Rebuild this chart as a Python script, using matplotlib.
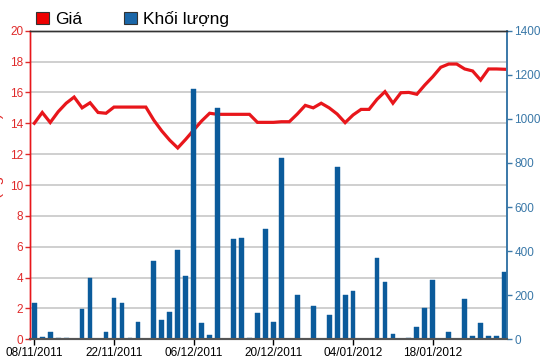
import matplotlib
matplotlib.use("Agg")
import matplotlib.pyplot as plt
from matplotlib.patches import Patch

plt.rcParams['font.family'] = ['Liberation Sans', 'DejaVu Sans']

# ---- data ----
price = [14.0, 14.7, 14.05, 14.75, 15.3, 15.7, 15.0, 15.33, 14.7, 14.65,
         15.05, 15.05, 15.05, 15.05, 15.05, 14.2, 13.5, 12.9, 12.4, 12.96,
         13.56, 14.15, 14.65, 14.58, 14.58, 14.58, 14.58, 14.58, 14.06, 14.06,
         14.06, 14.1, 14.1, 14.6, 15.16, 15.0, 15.3, 15.0, 14.6, 14.04,
         14.54, 14.9, 14.9, 15.55, 16.05, 15.3, 15.98, 16.0, 15.88, 16.48,
         17.02, 17.63, 17.84, 17.84, 17.52, 17.39, 16.8, 17.52, 17.52, 17.5]
volume = [163, 12, 34, 7, 7, 0, 136, 280, 0, 34,
          186, 163, 7, 80, 0, 355, 88, 125, 405, 287,
          1134, 73, 18, 1051, 0, 455, 461, 7, 121, 499,
          78, 821, 0, 202, 0, 153, 0, 109, 780, 202,
          220, 0, 0, 370, 260, 23, 0, 7, 57, 141,
          269, 0, 34, 0, 181, 14, 73, 14, 14, 304]
tick_idx = [0, 10, 20, 30, 40, 50]
tick_labels = ["08/11/2011", "22/11/2011", "06/12/2011", "20/12/2011",
               "04/01/2012", "18/01/2012"]
left_ticks = [0, 2, 4, 6, 8, 10, 12, 14, 16, 18, 20]
right_ticks = [0, 200, 400, 600, 800, 1000, 1200, 1400]

RED = "#e8161b"
LRED = "#e02a2a"
BLUE = "#0b5b9b"
SBLUE = "#3a78a8"

fig = plt.figure(figsize=(5.5, 3.64), dpi=100)
ax = fig.add_axes([30.3/550, 1-339.3/364, 477/550, 308.6/364])
ax2 = ax.twinx()

x = list(range(len(price)))

# price line on left axis
ax.plot(x, price, color=RED, lw=2.3, solid_joinstyle='miter', zorder=3)
ax.set_ylim(0, 20)
ax.set_yticks(left_ticks)
ax.set_xlim(-0.5, 59.35)
ax.grid(axis='y', color='#cccccc', lw=1.3)
ax.set_axisbelow(True)

# volume bars on right axis
ax2.bar(x, volume, width=0.6, color=BLUE, edgecolor=BLUE, lw=0.3, zorder=2)
ax2.set_ylim(0, 1400)
ax2.set_yticks(right_ticks)
ax2.set_xlim(-0.5, 59.35)

ax.set_xticks(tick_idx)
ax.set_xticklabels(tick_labels)

# styling
for a in (ax, ax2):
    a.spines['top'].set_color('#333333')
    a.spines['top'].set_linewidth(1.0)
    a.spines['bottom'].set_color('#555555')
    a.spines['bottom'].set_linewidth(1.5)
    a.spines['left'].set_color(RED)
    a.spines['right'].set_color(SBLUE)
    a.spines['left'].set_linewidth(1.0)
    a.spines['right'].set_linewidth(1.2)

ax.tick_params(axis='y', colors=LRED, labelsize=8.5, length=3.5, width=1, pad=1.5)
ax.tick_params(axis='x', colors='#000000', labelsize=8.5, length=4, width=1, pad=1.5)
ax2.tick_params(axis='y', colors=SBLUE, labelsize=8.5, length=3.5, width=1, pad=1.5)
for lab in ax.get_yticklabels():
    lab.set_color(LRED)
for lab in ax2.get_yticklabels():
    lab.set_color(SBLUE)

# partially visible left axis title (cut off at the left edge, as in the reference)
ax.set_ylabel("Giá (nghìn VNĐ)", color=LRED, fontsize=11)
ax.yaxis.set_label_coords(-0.055, 0.55)

# legend
handles = [Patch(facecolor="#ee0000", edgecolor="#333333", lw=0.8, label="Giá"),
           Patch(facecolor="#1a66a8", edgecolor="#333333", lw=0.8, label="Khối lượng")]
fig.legend(handles=handles, loc='upper left', bbox_to_anchor=(36/550, 1-11/364),
           ncol=2, frameon=False, fontsize=12.5, handlelength=0.75, handleheight=0.75,
           handletextpad=0.35, columnspacing=2.4, borderpad=0, borderaxespad=0)

fig.savefig("out.png", dpi=100)
